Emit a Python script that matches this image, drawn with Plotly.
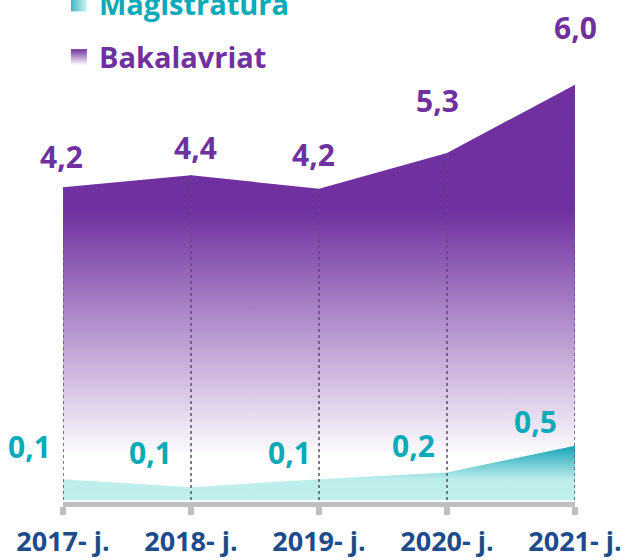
import plotly.graph_objects as go

# ---------------- data ----------------
years = ["2017- j.", "2018- j.", "2019- j.", "2020- j.", "2021- j."]
# plotted heights (as drawn in the picture)
bakalavriat = [4.21, 4.37, 4.19, 4.67, 5.59]
magistratura = [0.28, 0.17, 0.28, 0.37, 0.73]
# printed data labels
bakalavriat_labels = ["4,2", "4,4", "4,2", "5,3", "6,0"]
magistratura_labels = ["0,1", "0,1", "0,1", "0,2", "0,5"]
series_names = ["Magistratura", "Bakalavriat"]

PURPLE = "#7030A0"
TEAL_TXT = "#0AAAB9"
TEAL_DARK = "#16A3B6"
TEAL_LIGHT = "#C0F0EC"
BLUE_TXT = "#1D4B8C"
FONT = "Open Sans"

fig = go.Figure()

# Bakalavriat area (behind)
fig.add_trace(go.Scatter(
    x=years, y=bakalavriat, mode="none", fill="tozeroy",
    fillgradient=dict(type="vertical", start=0, stop=max(bakalavriat),
                      colorscale=[[0, "#FFFFFF"], [0.1, "#FFFFFF"],
                                  [0.7, PURPLE], [1, PURPLE]]),
    showlegend=False, hoverinfo="skip"))

# Magistratura area
fig.add_trace(go.Scatter(
    x=years, y=magistratura, mode="none", fill="tozeroy",
    fillgradient=dict(type="vertical", start=0, stop=max(magistratura),
                      colorscale=[[0, TEAL_LIGHT], [0.38, "#BCEEEB"],
                                  [1, TEAL_DARK]]),
    showlegend=False, hoverinfo="skip"))

# dotted drop lines
for i, yr in enumerate(years):
    fig.add_trace(go.Scatter(
        x=[yr, yr], y=[0, bakalavriat[i]], mode="lines",
        line=dict(color="#5E4B75", width=1.5, dash="dot"),
        showlegend=False, hoverinfo="skip"))

# legend entries
fig.add_trace(go.Scatter(
    x=[None], y=[None], mode="markers", legendgroup="m",
    name=f"<span style='color:{TEAL_TXT}'>{series_names[0]}</span>",
    marker=dict(symbol="square", size=18, color="#3DB6C2",
                gradient=dict(type="horizontal", color="#D2F4F2"))))
fig.add_trace(go.Scatter(
    x=[None], y=[None], mode="markers", legendgroup="b",
    name=f"<span style='color:{PURPLE}'>{series_names[1]}</span>",
    marker=dict(symbol="square", size=18, color=PURPLE,
                gradient=dict(type="vertical", color="#FFFFFF"))))

# data labels
bak_dx = [-2, 4, -6, -10, 0]
bak_dy = [31, 28, 34, 53, 57]
mag_dx = [-34, -41, -30, -34, -40]
mag_dy = [33, 35, 27, 27, 24]
for i, yr in enumerate(years):
    fig.add_annotation(x=yr, y=bakalavriat[i], text=bakalavriat_labels[i],
                       showarrow=False, xshift=bak_dx[i], yshift=bak_dy[i],
                       yanchor="middle",
                       font=dict(family=FONT, size=30, color=PURPLE, weight="bold"))
    fig.add_annotation(x=yr, y=magistratura[i], text=magistratura_labels[i],
                       showarrow=False, xshift=mag_dx[i], yshift=mag_dy[i],
                       yanchor="middle",
                       font=dict(family=FONT, size=30, color=TEAL_TXT, weight="bold"))

fig.update_layout(
    width=630, height=560,
    margin=dict(l=63, r=55, t=20, b=58, autoexpand=False),
    paper_bgcolor="white", plot_bgcolor="white",
    showlegend=True,
    legend=dict(x=-0.008, y=1.087, xanchor="left", yanchor="top",
                font=dict(family=FONT, size=29, weight="bold"),
                tracegroupgap=13, itemsizing="trace",
                bgcolor="rgba(0,0,0,0)"),
    xaxis=dict(type="category", range=[0, 4], showline=True,
               linecolor="#BFBFBF", linewidth=5, ticks="outside",
               ticklen=8, tickwidth=6, tickcolor="#BFBFBF",
               ticklabelstandoff=4,
               showgrid=False, zeroline=False,
               tickfont=dict(family=FONT, size=27, color=BLUE_TXT, weight="bold")),
    yaxis=dict(visible=False, range=[-0.027, 6.46]),
    hovermode=False,
)

fig.write_html("out.html", config={"displayModeBar": False},
               post_script="document.body.style.margin='0';document.body.style.padding='0';")
